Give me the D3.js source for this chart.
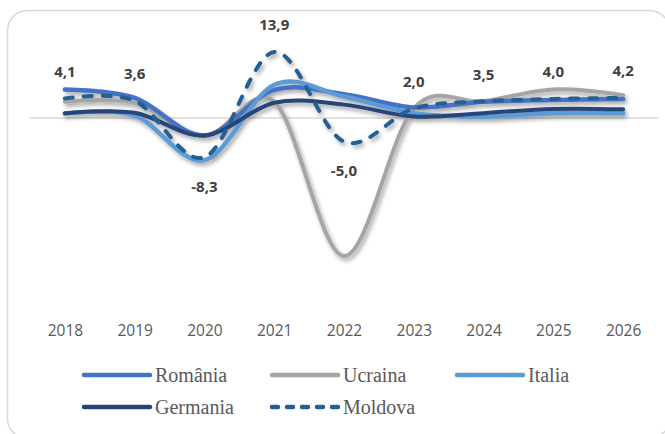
<!DOCTYPE html>
<html>
<head>
<meta charset="utf-8">
<script src="https://cdn.jsdelivr.net/npm/d3@7"></script>
<style>
  body { margin: 0; background: #fff; }
  svg { display: block; }
</style>
</head>
<body>
<svg id="chart" width="665" height="434"></svg>
<script>
// years on the category axis
var years = ["2018", "2019", "2020", "2021", "2022", "2023", "2024", "2025", "2026"];

// growth values per country
var romania  = [6.0, 4.2, -3.7, 5.9, 5.0, 2.2, 3.4, 3.8, 4.0];
var ucraina  = [3.4, 3.2, -3.8, 3.4, -29.1, 2.0, 3.5, 6.0, 4.8];
var italia   = [0.9, 0.5, -8.9, 7.0, 4.5, 1.0, 0.3, 1.0, 1.0];
var germania = [1.0, 1.1, -3.7, 3.2, 2.8, 0.3, 1.0, 1.9, 1.8];
var moldova  = [4.1, 3.6, -8.3, 13.9, -5.0, 2.0, 3.5, 4.0, 4.2];

var seriesNames = ["România", "Ucraina", "Italia", "Germania", "Moldova"];

var width = 665,
    height = 434;

var svg = d3.select("#chart");

// shadow under the lines, like the Excel one
var defs = svg.append("defs");
var filter = defs.append("filter")
    .attr("id", "shadow")
    .attr("x", "-10%").attr("y", "-10%")
    .attr("width", "130%").attr("height", "130%");
filter.append("feDropShadow")
    .attr("dx", 2)
    .attr("dy", 3)
    .attr("stdDeviation", 2)
    .attr("flood-color", "#000")
    .attr("flood-opacity", 0.35);

// chart frame (bottom right corner is cut by the picture edge)
svg.append("rect")
    .attr("x", 7.5)
    .attr("y", 10.5)
    .attr("width", 662)
    .attr("height", 428)
    .attr("rx", 20)
    .attr("ry", 20)
    .attr("fill", "#fff")
    .attr("stroke", "#D9D9D9")
    .attr("stroke-width", 1.5);

var x = d3.scalePoint()
    .domain(years)
    .range([30, 658])
    .padding(0.5);

var y = d3.scaleLinear()
    .domain([-35, 20])
    .range([284, 23]);

// zero line
svg.append("line")
    .attr("x1", 30)
    .attr("x2", 658)
    .attr("y1", y(0))
    .attr("y2", y(0))
    .attr("stroke", "#D9D9D9")
    .attr("stroke-width", 1.5);

// category axis, no line and no ticks
var xAxis = svg.append("g")
    .attr("transform", "translate(0," + 325 + ")")
    .call(d3.axisBottom(x).tickSize(0).tickPadding(0));
xAxis.select(".domain").remove();
xAxis.selectAll("text")
    .attr("font-family", "'Open Sans', sans-serif")
    .attr("font-size", 15.5)
    .attr("fill", "#595959");

var line = d3.line()
    .x(function(d, i) { return x(years[i]); })
    .y(function(d) { return y(d); })
    .curve(d3.curveCardinal.tension(0));

// drawing order: grey at the bottom, dashed Moldova on top
var drawList = [
    {name: "Ucraina",  values: ucraina,  color: "#A5A5A5", width: 4,   dash: null},
    {name: "România",  values: romania,  color: "#4472C4", width: 4.5, dash: null},
    {name: "Italia",   values: italia,   color: "#5B9BD5", width: 4.5, dash: null},
    {name: "Germania", values: germania, color: "#264478", width: 4,   dash: null},
    {name: "Moldova",  values: moldova,  color: "#255E91", width: 4,   dash: "8 11"}
];

var lines = svg.append("g").attr("filter", "url(#shadow)");
drawList.forEach(function(s) {
    lines.append("path")
        .datum(s.values)
        .attr("d", line)
        .attr("fill", "none")
        .attr("stroke", s.color)
        .attr("stroke-width", s.width)
        .attr("stroke-linecap", "round")
        .attr("stroke-linejoin", "round")
        .attr("stroke-dasharray", s.dash);
});

// Moldova data labels, comma as decimal mark, plain hyphen for minus
svg.append("g").selectAll("text")
    .data(moldova)
    .enter().append("text")
    .attr("x", function(d, i) { return x(years[i]); })
    .attr("y", function(d) { return d >= 0 ? y(d) - 27 : y(d) + 29; })
    .attr("dy", "0.35em")
    .attr("text-anchor", "middle")
    .attr("font-family", "'Open Sans', sans-serif")
    .attr("font-weight", "bold")
    .attr("font-size", 15)
    .attr("fill", "#404040")
    .text(function(d) { return d.toFixed(1).replace(".", ","); });

// legend, two rows
var legendStyle = {
    "România": drawList[1], "Ucraina": drawList[0], "Italia": drawList[2],
    "Germania": drawList[3], "Moldova": drawList[4]
};
var legendCols = [82, 270, 455];
var legendRows = [375, 407];

var legend = svg.append("g");
seriesNames.forEach(function(name, i) {
    var s = legendStyle[name];
    var lx = legendCols[i % 3];
    var ly = legendRows[Math.floor(i / 3)];
    legend.append("line")
        .attr("x1", lx + 2)
        .attr("x2", lx + 68)
        .attr("y1", ly)
        .attr("y2", ly)
        .attr("stroke", s.color)
        .attr("stroke-width", 4.5)
        .attr("stroke-linecap", "round")
        .attr("stroke-dasharray", s.dash ? "6 9" : null);
    legend.append("text")
        .attr("x", lx + 73)
        .attr("y", ly)
        .attr("dy", "0.35em")
        .attr("font-family", "'Liberation Serif', 'Times New Roman', serif")
        .attr("font-size", 20)
        .attr("fill", "#595959")
        .text(name);
});
</script>
</body>
</html>
